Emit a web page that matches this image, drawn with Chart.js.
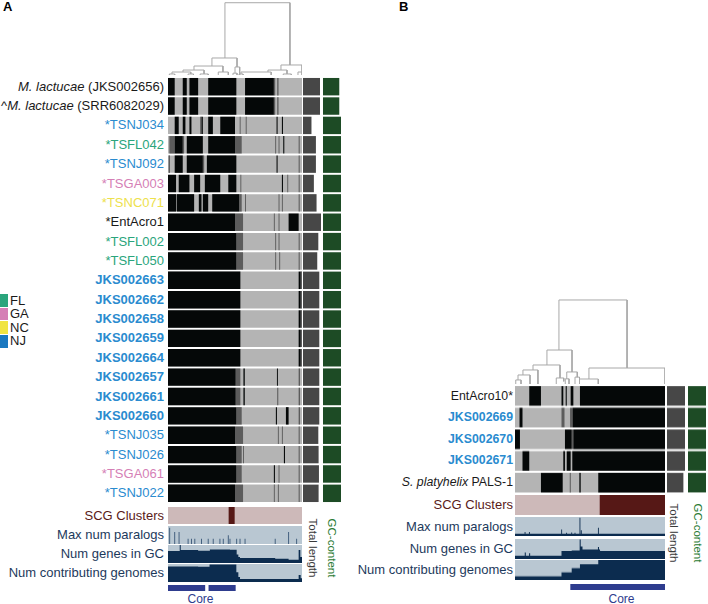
<!DOCTYPE html>
<html><head><meta charset="utf-8">
<script src="https://cdn.jsdelivr.net/npm/chart.js@4.4.1/dist/chart.umd.min.js"></script>
<style>
html,body{margin:0;padding:0;background:#fff}
body{width:708px;height:604px;position:relative;overflow:hidden;font-family:"Liberation Sans",Arial,Helvetica,sans-serif}
.box{position:absolute}
.t{position:absolute;white-space:nowrap;line-height:16px}
.rot{position:absolute;white-space:nowrap;transform:translate(-50%,-50%) rotate(90deg);font-size:11.5px;line-height:12px}
</style></head><body>
<script>
// ---------------- DATA ----------------
// Panel A genomes (rows, top to bottom)
const genomesA = ["M. lactucae (JKS002656)","^M. lactucae (SRR6082029)","*TSNJ034","*TSFL042","*TSNJ092","*TSGA003","*TSNC071","*EntAcro1","*TSFL002","*TSFL050","JKS002663","JKS002662","JKS002658","JKS002659","JKS002664","JKS002657","JKS002661","JKS002660","*TSNJ035","*TSNJ026","*TSGA061","*TSNJ022"];
const stateA = ["ref","ref","NJ","FL","NJ","GA","NC","ref","FL","FL","NJ","NJ","NJ","NJ","NJ","NJ","NJ","NJ","NJ","NJ","GA","NJ"];
// gene-cluster order runs (percent of ordered gene clusters) where the genome has genes
const presentA = [
 [[0,5],[11,14],[16,22.5],[30,51],[57.5,79]],
 [[0,5],[11,14],[16,22.5],[30,51],[57.5,79]],
 [[5,8],[11,13],[16,17.5],[25,26],[30,33.5],[39,50],[81,81.8],[85,85.8]],
 [[5,11],[14,26],[30,50],[86,86.8]],
 [[5,11],[14,26],[29,51],[81,81.8]],
 [[0,6],[8,16],[19.5,24],[27.5,39],[45,51],[85,85.8]],
 [[0,6],[6.5,19.5],[23,25],[26,30],[33,53]],
 [[0,50],[90,97.5]],
 [[0,51]],
 [[0,51]],
 [[0,54],[97.5,99]],
 [[0,54],[97.5,99]],
 [[0,54],[97.5,99]],
 [[0,54],[97.5,99]],
 [[0,54],[97.5,99]],
 [[0,50.5],[56.3,57.3],[81.3,82]],
 [[0,50.5],[56.3,57.3]],
 [[0,51],[80.5,81.3],[88,90]],
 [[0,50]],
 [[0,51],[86.5,87.3]],
 [[0,51],[79,79.8]],
 [[0,50]]
];
// runs with partial (intermediate) gene frequency
const partialA = [
 [[79,80],[81.5,82.5]],
 [[79,80],[81.5,82.5]],
 [[24,25],[53.5,54.2],[58,58.7]],
 [[1,5],[11,12],[50,55],[80,80.7],[82.5,83.2],[97.5,98.3]],
 [[0.5,1.5],[26,27],[97.5,98.3]],
 [[54,54.7],[89,89.7],[97.5,98.3]],
 [[53,55],[57.5,58.2],[82.5,83.2],[85,85.7],[97.5,98.3]],
 [[50,56],[79,79.7],[82.5,83.2]],
 [[51,56],[80,80.7],[82.5,83.2],[97.5,98.3]],
 [[51,56],[80,80.7],[83,83.7],[97.5,98.3]],
 [[99,100]],[[99,100]],[[99,100]],[[99,100]],[[99,100]],
 [[50.5,54],[97.5,98.5]],
 [[50.5,54],[81.5,82.3],[97.5,98.5]],
 [[51,55],[97.5,98.5]],
 [[50,56],[82,82.7],[85,85.7],[97.5,98.3]],
 [[51,55],[56,56.7],[97.5,98.3]],
 [[51,55],[82.5,83.2],[97.5,98.3]],
 [[50,56],[79,79.7],[82,82.7],[97.5,98.3]]
];
const totalLengthA = [2.41,2.41,1.20,1.83,1.83,1.54,1.92,2.55,2.17,2.02,2.31,2.31,2.31,2.31,2.31,2.31,2.31,2.31,2.17,2.21,2.26,2.21];
const gcContentA = [28.5,28.5,31.5,31.5,31.5,31.5,31.5,31.5,31.5,31.5,31.5,31.5,31.5,31.5,31.5,31.5,31.5,31.5,31.5,31.5,31.5,31.5];
const scgA = [[0,45.5,"no"],[45.5,50,"scg"],[50,100,"no"]];
const paraAx = [1.25,5,8.25,15,17.5,20,25,30,33.75,38.75,41.25,45,46.25,51.25,53.75,57.5,80,90,96];
const paraAv = [11,8.4,8.4,4.2,4.2,4.2,4.2,4.2,4.2,4.2,4.2,6.3,4.2,4.2,4.2,4.2,4.2,8.4,4.2];
const genesAx = [0,8.75,9.5,22.5,31.25,46.25,51.25,52.5,53.75,80,90,97.5,98.75];
const genesAv = [20,30,21.5,20.5,22.5,22,14,10,8.5,7,5.5,21.5,10];
const contribAx = [0,22.5,31,51,52.5,53.75,97.5,99];
const contribAv = [19,18.5,21.5,12,6,3.8,8.5,4.5];
const coreA = [[0,27.5],[30.5,50.25]];
// dendrogram merges: [left x, right x, merge height, left child height, right child height]
const dendroA = [
 [42.5,91.0,99,23.3,13.7],[32.8,51.5,23.3,12.3,11],[19.4,41.0,12.3,6.8,4.1],[11.2,26.9,6.8,4.1,1.4],
 [3.0,17.0,4.1,1.4,1.4],[1.0,5.0,1.4,0,0],[15.0,19.0,1.4,0,0],[24.0,30.0,1.4,0,0],[37.5,45.0,4.1,0,0],
 [50.0,53.5,11,2.5,0],[48.5,51.5,2.5,0,0],[84.3,100,13.7,6.8,4.1],[74.6,88.8,6.8,4.1,1.4],
 [54.5,77.0,4.1,1.4,0],[53,56,1.4,0,0],[86,92,1.4,0,0],[97,100,4.1,0,0]
];

// Panel B
const genomesB = ["EntAcro10*","JKS002669","JKS002670","JKS002671","S. platyhelix PALS-1"];
const stateB = ["ref","NJ","NJ","NJ","ref"];
const presentB = [
 [[9.5,17.3],[31,32.2],[33.8,34.5],[37.1,38.9],[43.3,100]],
 [[3,5],[38.4,100]],
 [[0,3.3],[33.3,37.8],[38.9,100]],
 [[5,9.5],[32.2,33.3],[34.5,37.1],[38.2,100]],
 [[17.3,31.8],[42.9,43.8],[55.5,100]]
];
const partialB = [[],[[31,33],[36.7,38.4]],[[37.8,38.9]],[],[[36.5,37.2]]];
const totalLengthB = [1.90,1.90,1.90,1.90,1.73];
const gcContentB = [25.1,25.1,25.1,25.1,25.1];
const scgB = [[0,56.7,"no"],[56.7,100,"scg"]];
const paraBx = [6.7,9.6,31.1,34.4,37.8,40,43.3,44.2,55.6];
const paraBv = [1.7,1.7,2.7,1.4,1.5,1.4,7.7,2.4,3.5];
const genesBx = [0,6.5,7.2,9.4,10.1,31,37.8,43.1,43.8,45,55.3,56,56.7];
const genesBv = [1.6,3.2,1.6,2.9,1.6,4,4.3,9.7,6.2,4.8,6,4.8,4];
const contribBx = [0,31,37.8,43.3,55.5];
const contribBv = [1,2,3,4,5];
const coreB = [[37.1,100]];
const dendroB = [
 [29.3,74.7,97.7,39.5,18.6],[21.3,38.0,39.5,22.1,14.0],[12.0,30.0,22.1,16.3,7.0],[5.3,15.3,16.3,10.5,0],
 [2.0,10.0,10.5,4.7,0],[0.5,4.0,4.7,0,0],[27.5,32.5,7.0,0,3],[34.5,41.5,14.0,6,8],[33.5,36,6,0,0],
 [40,43,8,0,0],[49.3,100,18.6,5.8,0],[43,55.5,5.8,0,0]
];

const legendStates = ["FL","GA","NC","NJ"];

// ---------------- STYLE ----------------
const C = {gray:"#b4b4b4", dark:"#5c5c5c", black:"#050808", tl:"#474747", gc:"#1d4b25",
  scgNo:"#cdb9b9", scg:"#561816", layerBg:"#b9c7d2", navy:"#0c2c4f", spike:"#3d5a7a", core:"#2e3c8e", dendro:"#a8a8a8"};
const stateColor = {FL:"#2aa57c", GA:"#d57fb6", NC:"#ede14c", NJ:"#2a8bcf", ref:"#1a1a1a"};
const legendColor = {FL:"#2aa57c", GA:"#d57fb6", NC:"#f0e442", NJ:"#1a78c0"};

function hidden(min,max,extra){return Object.assign({display:false,min:min,max:max},extra||{});}
function mk(left, top, w, h, cfg, bg, pad){
  const d=document.createElement("div"); d.className="box";
  d.style.left=left+"px"; d.style.top=top+"px"; d.style.width=w+"px"; d.style.height=h+"px";
  if(bg) d.style.background=bg;
  const c=document.createElement("canvas"); d.appendChild(c); document.body.appendChild(d);
  cfg.options.responsive=true; cfg.options.maintainAspectRatio=false; cfg.options.animation=false;
  cfg.options.events=[]; cfg.options.plugins={legend:{display:false},tooltip:{enabled:false}};
  cfg.options.layout={padding:pad||0};
  return new Chart(c,cfg);
}
function text(str, x, y, opts){
  const d=document.createElement("div"); d.className="t";
  d.innerHTML=str;
  d.style.fontSize=(opts.size||13)+"px"; d.style.color=opts.color||"#1a1a1a";
  if(opts.bold) d.style.fontWeight="bold";
  if(opts.align==="right"){ d.style.right=(708-x)+"px"; }
  else if(opts.align==="center"){ d.style.left=x+"px"; d.style.transform="translateX(-50%)"; }
  else d.style.left=x+"px";
  d.style.top=(y-8)+"px";
  document.body.appendChild(d); return d;
}
function rotText(str,x,y,color){
  const d=document.createElement("div"); d.className="rot"; d.textContent=str;
  d.style.left=x+"px"; d.style.top=y+"px"; d.style.color=color; document.body.appendChild(d);
}
function labelHtml(name){
  const m=name.match(/^(\^?)(M\. lactucae|S\. platyhelix)(.*)$/);
  return m ? m[1]+"<i>"+m[2]+"</i>"+m[3] : name;
}

// Chart.js paints the first dataset on top, so present runs come first and the gray base last.
function heatmap(names, present, partial, box){
  const flat=(runs)=>runs.flatMap((r,i)=>r.map(([s,e])=>({y:names[i],x:[s,e]})));
  const ds=(data,color)=>({data:data,backgroundColor:color,grouped:false,barPercentage:0.9,categoryPercentage:1,borderWidth:0});
  return mk(box[0],box[1],box[2],box[3],{type:"bar",data:{labels:names,datasets:[
      ds(flat(present),C.black), ds(flat(partial),C.dark), ds(names.map(n=>({y:n,x:[0,100]})),C.gray)]},
    options:{indexAxis:"y",scales:{x:hidden(0,100,{type:"linear"}),y:{type:"category",display:false,offset:true}}}});
}
function column(names, values, max, color, box){
  return mk(box[0],box[1],box[2],box[3],{type:"bar",data:{labels:names,datasets:[
      {data:values,backgroundColor:color,barPercentage:0.9,categoryPercentage:1,borderWidth:0}]},
    options:{indexAxis:"y",scales:{x:hidden(0,max,{type:"linear"}),y:{type:"category",display:false,offset:true}}}});
}
function runsBar(runs, colorOf, box){
  return mk(box[0],box[1],box[2],box[3],{type:"bar",data:{labels:["L"],datasets:[
      {data:runs.map(r=>({y:"L",x:[r[0],r[1]]})),backgroundColor:runs.map(colorOf),grouped:false,barPercentage:1,categoryPercentage:1,borderWidth:0}]},
    options:{indexAxis:"y",scales:{x:hidden(0,100,{type:"linear"}),y:{type:"category",display:false}}}});
}
function stepProfile(xs, vs){const p=xs.map((x,i)=>({x:x,y:vs[i]})); p.push({x:100,y:vs[vs.length-1]}); return p;}
function spikeProfile(xs, vs, base, w){
  const p=[{x:0,y:base}];
  xs.forEach((x,i)=>{p.push({x:x-w/2,y:vs[i]}); p.push({x:x+w/2,y:base});});
  p.push({x:100,y:base}); return p;
}
function layer(points, ymin, ymax, box, color){
  return mk(box[0],box[1],box[2],box[3],{type:"line",data:{datasets:[
      {data:points,stepped:true,fill:"origin",backgroundColor:color||C.navy,borderWidth:0,pointRadius:0}]},
    options:{scales:{x:hidden(0,100,{type:"linear"}),y:hidden(ymin,ymax,{type:"linear"})}}}, C.layerBg);
}
function dendrogram(merges, box, pad){
  const dsets=merges.map(m=>({data:[{x:m[0],y:m[3]},{x:m[0],y:m[2]},{x:m[1],y:m[2]},{x:m[1],y:m[4]}],
    showLine:true,borderColor:C.dendro,borderWidth:1,pointRadius:0,fill:false}));
  return mk(box[0],box[1],box[2],box[3],{type:"scatter",data:{datasets:dsets},
    options:{scales:{x:hidden(0,100,{type:"linear"}),y:hidden(0,100,{type:"linear"})}}},null,pad);
}
function rowLabels(chart, names, states, boxTop, rightX, size){
  const ys=chart.scales.y;
  names.forEach((n,i)=>{
    const y=boxTop+ys.getPixelForValue(i);
    const bold=/^JKS/.test(n);
    text(labelHtml(n), rightX, y, {align:"right", size:size, bold:bold, color:stateColor[states[i]]});
  });
}

// ---------------- PANEL A ----------------
text("A",3,7,{bold:true,size:13,color:"#000"});
dendrogram(dendroA,[166,0,138,76],{left:2,right:2,top:2,bottom:1});
const hmA=heatmap(genomesA,presentA,partialA,[168,77,134,426]);
column(genomesA,totalLengthA,2.55,C.tl,[303,77,18,426]);
column(genomesA,gcContentA,31.5,C.gc,[322.5,77,18,426]);
rowLabels(hmA,genomesA,stateA,77,164,13);
runsBar(scgA,r=>r[2]==="scg"?C.scg:C.scgNo,[168,506.5,134,17.5]);
layer(spikeProfile(paraAx,paraAv,1,0.7),1,12,[168,526,134,18],C.spike);
layer(stepProfile(genesAx,genesAv),0,30,[168,545,134,18]);
layer(stepProfile(contribAx,contribAv),0,22,[168,564,134,18]);
runsBar(coreA,()=>C.core,[168,585,134,5.5]);
text("SCG Clusters",164,515.5,{align:"right",color:"#5a1a18"});
text("Max num paralogs",164,535,{align:"right",color:"#1d3a5c"});
text("Num genes in GC",164,554,{align:"right",color:"#1d3a5c"});
text("Num contributing genomes",164,573,{align:"right",color:"#1d3a5c"});
text("Core",200.5,599,{align:"center",size:12,color:C.core});
rotText("Total length",312.5,547.5,"#3a3a3a");
rotText("GC-content",331.5,547.5,"#2a7a32");

// legend
legendStates.forEach((s,i)=>{
  const sq=document.createElement("div"); sq.className="box";
  sq.style.cssText="position:absolute;left:0px;top:"+(294+i*13.6)+"px;width:8px;height:12.8px;background:"+legendColor[s];
  document.body.appendChild(sq);
  text(s,10,300.5+i*13.6,{size:13,color:"#1a1a1a"});
});

// ---------------- PANEL B ----------------
text("B",399,7,{bold:true,size:13,color:"#000"});
dendrogram(dendroB,[513,297,154,87],{left:2,right:2,top:1,bottom:0});
const hmB=heatmap(genomesB,presentB,partialB,[515,385,150,107.5]);
column(genomesB,totalLengthB,1.9,C.tl,[667,385,18,107.5]);
column(genomesB,gcContentB,25.1,C.gc,[688,385,18,107.5]);
rowLabels(hmB,genomesB,stateB,385,513,12.3);
runsBar(scgB,r=>r[2]==="scg"?C.scg:C.scgNo,[515,495,150,20]);
layer(spikeProfile(paraBx,paraBv,1,0.6),0,8,[515,517,150,19]);
layer(stepProfile(genesBx,genesBv),0,10,[515,538.5,150,20]);
layer(stepProfile(contribBx,contribBv),0,5,[515,560,150,19.5]);
runsBar(coreB,()=>C.core,[515,583.5,150,6]);
text("SCG Clusters",513,505,{align:"right",size:13,color:"#5a1a18"});
text("Max num paralogs",513,527,{align:"right",size:13,color:"#1d3a5c"});
text("Num genes in GC",513,548.5,{align:"right",size:13,color:"#1d3a5c"});
text("Num contributing genomes",513,570,{align:"right",size:13,color:"#1d3a5c"});
text("Core",621.5,599,{align:"center",size:12,color:C.core});
rotText("Total length",673.5,532.5,"#3a3a3a");
rotText("GC-content",697.5,533,"#2a7a32");
</script>
</body></html>
